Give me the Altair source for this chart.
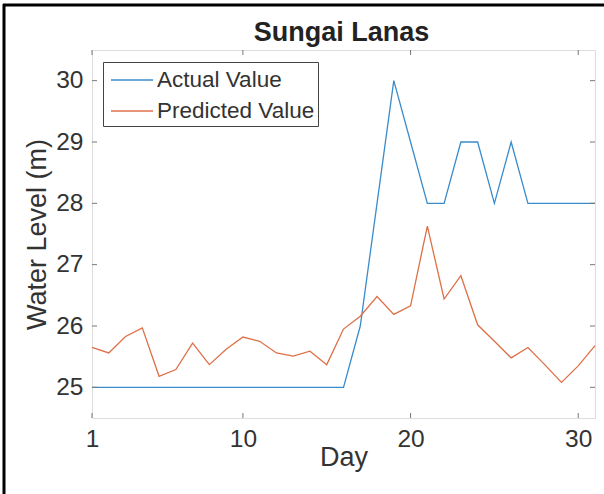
import altair as alt
import pandas as pd

# Daily water level at Sungai Lanas: observed vs. model prediction
days = list(range(1, 32))
actual = [25, 25, 25, 25, 25, 25, 25, 25, 25, 25, 25, 25, 25, 25, 25, 25,
          26, 28, 30, 29, 28, 28, 29, 29, 28, 29, 28, 28, 28, 28, 28]
predicted = [25.65, 25.56, 25.83, 25.97, 25.18, 25.29, 25.72, 25.37, 25.62, 25.82,
             25.75, 25.56, 25.51, 25.59, 25.37, 25.95, 26.16, 26.48, 26.19, 26.33,
             27.63, 26.44, 26.82, 26.02, 25.75, 25.48, 25.65, 25.37, 25.08, 25.35, 25.68]
series_names = ["Actual Value", "Predicted Value"]
series_colors = ["#3a8ccb", "#de7047"]
x_ticks = [1, 10, 20, 30]
y_ticks = [25, 26, 27, 28, 29, 30]
chart_title = "Sungai Lanas"

W, H = 503, 368
FONT = "Liberation Sans"
TEXT = "#333333"
FRAME = "#777777"
TICK_SIZE = 24.5
LABEL_SIZE = 27

df = pd.DataFrame({
    "Day": days * 2,
    "Level": actual + predicted,
    "Series": [series_names[0]] * len(days) + [series_names[1]] * len(days),
})

x_enc = alt.X("Day:Q", scale=alt.Scale(domain=[1, 31], nice=False, zero=False),
              axis=alt.Axis(values=x_ticks, title="Day", grid=False, domain=False,
                            ticks=False, labelPadding=9, titlePadding=-6,
                            labelFontSize=TICK_SIZE, titleFontSize=LABEL_SIZE,
                            labelFont=FONT, titleFont=FONT, labelColor=TEXT,
                            titleColor=TEXT, titleFontWeight="normal",
                            labelFlush=False))
y_enc = alt.Y("Level:Q", scale=alt.Scale(domain=[24.5, 30.5], nice=False, zero=False),
              axis=alt.Axis(values=y_ticks, title="Water Level (m)", grid=False,
                            domain=False, ticks=False, labelPadding=9,
                            titlePadding=4, labelFontSize=TICK_SIZE,
                            titleFontSize=LABEL_SIZE, labelFont=FONT,
                            titleFont=FONT, labelColor=TEXT, titleColor=TEXT,
                            titleFontWeight="normal"))

lines = alt.Chart(df).mark_line(strokeWidth=1.3).encode(
    x=x_enc,
    y=y_enc,
    color=alt.Color("Series:N",
                    scale=alt.Scale(domain=series_names, range=series_colors),
                    legend=alt.Legend(
                        title=None, orient="none", legendX=11, legendY=12,
                        direction="vertical", symbolType="M-1.5,0H1.5",
                        symbolSize=784, symbolStrokeWidth=1.3, symbolOffset=11,
                        labelOffset=10, labelFontSize=22.5, labelFont=FONT,
                        labelColor=TEXT, rowPadding=4, padding=3,
                        strokeColor="#444444", fillColor="white",
                        cornerRadius=0)),
)

# inward tick marks on all four sides of the box
xt = pd.DataFrame({"Day": x_ticks})
yt = pd.DataFrame({"Level": y_ticks})
ticks = [
    alt.Chart(xt).mark_rule(color=FRAME, strokeWidth=1).encode(
        x=x_enc, y=alt.value(H), y2=alt.value(H - 5)),
    alt.Chart(xt).mark_rule(color=FRAME, strokeWidth=1).encode(
        x=x_enc, y=alt.value(0), y2=alt.value(5)),
    alt.Chart(yt).mark_rule(color=FRAME, strokeWidth=1).encode(
        y=y_enc, x=alt.value(0), x2=alt.value(5)),
    alt.Chart(yt).mark_rule(color=FRAME, strokeWidth=1).encode(
        y=y_enc, x=alt.value(W), x2=alt.value(W - 5)),
]

# figure edge lines along the top and left, and the title text
edge = pd.DataFrame({"label": [chart_title]})
extras = [
    alt.Chart(edge).mark_rule(color="black", strokeWidth=3).encode(
        x=alt.value(-89), x2=alt.value(W + 12), y=alt.value(-45)),
    alt.Chart(edge).mark_rule(color="black", strokeWidth=3).encode(
        x=alt.value(-88), y=alt.value(-46), y2=alt.value(H + 80)),
    alt.Chart(edge).mark_text(fontSize=27, font=FONT, fontWeight="bold",
                              color="#222222", align="center",
                              baseline="alphabetic").encode(
        text="label:N", x=alt.value(W / 2 - 2), y=alt.value(-9)),
]

chart = alt.layer(lines, *ticks, *extras).properties(
    width=W, height=H,
    autosize=alt.AutoSizeParams(type="none"),
    padding={"left": 92, "top": 50, "right": 9, "bottom": 76},
).configure_view(
    stroke=FRAME, strokeWidth=1
).configure(background="white")

chart.save("out.html", embed_options={"renderer": "svg", "actions": False})
